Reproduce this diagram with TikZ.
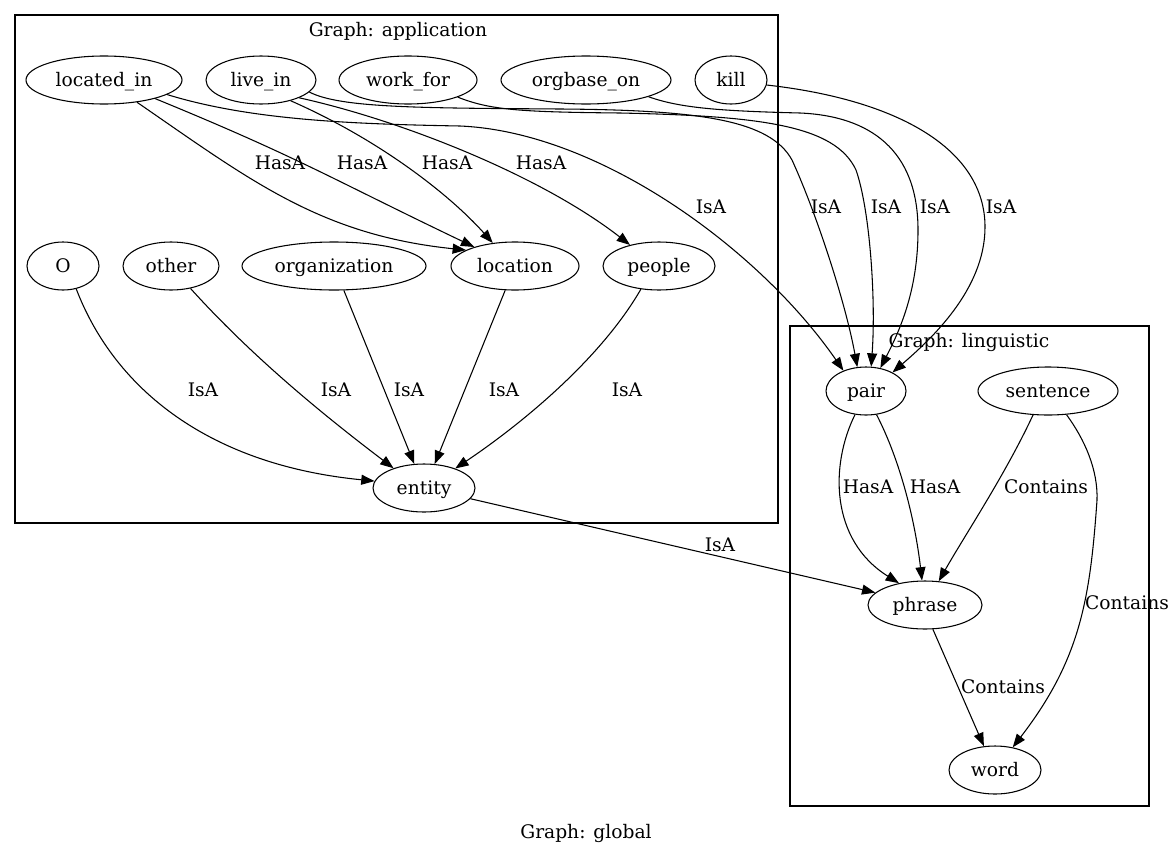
\documentclass[tikz,border=0pt]{standalone}
\usepackage{fontspec}
\setmainfont{DejaVu Serif}
\usetikzlibrary{arrows.meta,shapes.geometric}
\begin{document}
\begin{tikzpicture}[x=0.75pt,y=-0.75pt,
  font=\fontsize{14}{16}\selectfont,
  every node/.style={text height=12pt,text depth=2pt},
  nd/.style={ellipse,draw,line width=0.8pt,inner sep=0pt,minimum height=36pt,minimum width=#1*1.5pt},
  ed/.style={line width=0.8pt,-{Triangle[length=10pt,width=7.5pt]}},
  lbl/.style={inner sep=1pt},
  cl/.style={draw,line width=0.8pt,inner sep=0pt,text height=0pt,text depth=0pt}]
\useasboundingbox (0,0) rectangle (1176,853);
% clusters
\node[cl,minimum width=572.25pt,minimum height=381pt] (appcl) at (396.5,269) {};
\node[cl,minimum width=269.25pt,minimum height=360pt] (lingcl) at (969.5,566) {};
\node[lbl] (tapp) at (398,30) {Graph: application};
\node[lbl] (tling) at (969,341) {Graph: linguistic};
\node[lbl] (tglob) at (586,832) {Graph: global};
% nodes
\node[nd=78] (located_in) at (104,80) {located\_in};
\node[nd=55] (live_in) at (261,80) {live\_in};
\node[nd=69] (work_for) at (408,80) {work\_for};
\node[nd=85] (orgbase_on) at (586,80) {orgbase\_on};
\node[nd=36] (kill) at (731,80) {kill};
\node[nd=36] (O) at (63,266) {O};
\node[nd=48] (other) at (171,266) {other};
\node[nd=92] (organization) at (334,266) {organization};
\node[nd=64] (location) at (515,266) {location};
\node[nd=56] (people) at (659,266) {people};
\node[nd=51] (entity) at (424,488) {entity};
\node[nd=40] (pair) at (866,391) {pair};
\node[nd=70] (sentence) at (1048,391) {sentence};
\node[nd=57] (phrase) at (925,605) {phrase};
\node[nd=46] (word) at (995,770) {word};
% top edges
\draw[ed] (located_in.-34) .. controls (250,180) and (320,235) .. (location.162);
\draw[ed] (located_in.-20) .. controls (300,158) and (330,178) .. (location.155);
\draw[ed] (live_in.-35) .. controls (380,140) and (450,195) .. (location.134);
\draw[ed] (live_in.-25) .. controls (400,120) and (540,175) .. (people.144);
\draw[ed] (located_in.-13) .. controls (250,120) and (350,124) .. (460,126) .. controls (600,132) and (760,250) .. (pair.138);
\draw[ed] (live_in.-14) .. controls (340,108) and (420,108) .. (560,109) .. controls (700,110) and (770,120) .. (792,160) .. controls (815,210) and (845,300) .. (pair.110);
\draw[ed] (work_for.-19) .. controls (490,110) and (520,112) .. (620,113) .. controls (760,116) and (835,125) .. (856,170) .. controls (870,210) and (876,300) .. (pair.78);
\draw[ed] (orgbase_on.-15) .. controls (680,108) and (720,111) .. (800,113) .. controls (870,116) and (918,150) .. (918,230) .. controls (918,290) and (900,330) .. (pair.58);
\draw[ed] (kill.-8) .. controls (900,100) and (985,150) .. (985,227) .. controls (985,290) and (930,340) .. (pair.35);
% labels top
\node[lbl] (l1) at (280,163) {HasA};
\node[lbl] (l2) at (362,163) {HasA};
\node[lbl] (l3) at (447,163) {HasA};
\node[lbl] (l4) at (541,163) {HasA};
\node[lbl] (l5) at (711,207) {IsA};
\node[lbl] (l6) at (826,207) {IsA};
\node[lbl] (l7) at (886,207) {IsA};
\node[lbl] (l8) at (935,207) {IsA};
\node[lbl] (l9) at (1001,207) {IsA};
% bottom edges
\draw[ed] (O.-60) .. controls (115,390) and (210,465) .. (entity.172);
\draw[ed] (other.-49) .. controls (255,360) and (330,420) .. (entity.147);
\draw[ed] (organization.-68) -- (entity.112);
\draw[ed] (location.-112) -- (entity.66);
\draw[ed] (people.-128) .. controls (600,360) and (520,425) .. (entity.32);
\draw[ed] (entity.-13) -- (phrase.166);
\node[lbl] (l10) at (203,390) {IsA};
\node[lbl] (l11) at (336,390) {IsA};
\node[lbl] (l12) at (409,390) {IsA};
\node[lbl] (l13) at (504,390) {IsA};
\node[lbl] (l14) at (627,390) {IsA};
\node[lbl] (l15) at (720,545) {IsA};
% linguistic edges
\draw[ed] (pair.-115) .. controls (830,465) and (830,540) .. (phrase.140);
\draw[ed] (pair.-66) .. controls (900,460) and (915,520) .. (phrase.97);
\draw[ed] (sentence.-122) .. controls (1005,475) and (965,535) .. (phrase.60);
\draw[ed] (sentence.-52) .. controls (1085,440) and (1098,470) .. (1097,500) .. controls (1090,600) and (1080,660) .. (word.52);
\draw[ed] (phrase.-72) -- (word.115);
\node[lbl] (l16) at (868,487) {HasA};
\node[lbl] (l17) at (935,487) {HasA};
\node[lbl] (l18) at (1046,487) {Contains};
\node[lbl] (l19) at (1127,603) {Contains};
\node[lbl] (l20) at (1003,687) {Contains};
\end{tikzpicture}
\end{document}
